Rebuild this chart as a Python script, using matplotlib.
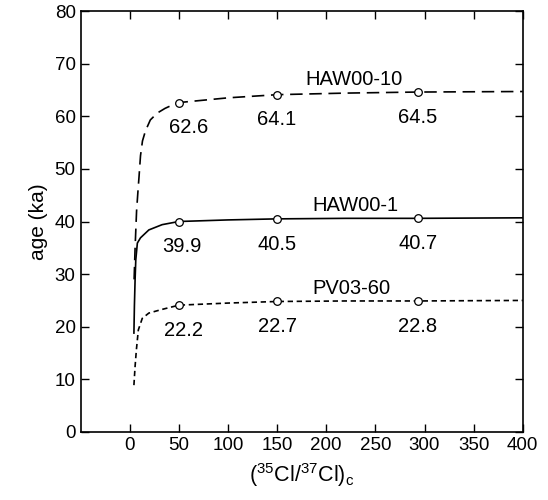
import matplotlib
matplotlib.use('Agg')
import matplotlib.pyplot as plt

plt.rcParams['font.family'] = ['Liberation Sans', 'DejaVu Sans']
plt.rcParams['mathtext.fontset'] = 'custom'
plt.rcParams['mathtext.rm'] = 'Liberation Sans'

# curves
haw10_x = [4.5, 5.5, 7, 8.5, 9.5, 11, 13, 16, 21, 28, 36, 43, 50, 100, 150, 220, 293, 400]
haw10_y = [29, 35, 42, 46, 48.5, 52.5, 55.3, 57.2, 59.3, 60.6, 61.5, 62.1, 62.6, 63.5, 64.1, 64.4, 64.6, 64.7]

haw1_x = [4.3, 4.8, 5.5, 6.2, 7.8, 11, 19.5, 33, 50, 100, 150, 220, 293, 400]
haw1_y = [18.8, 24, 29, 32.7, 35.9, 36.9, 38.4, 39.4, 40.0, 40.3, 40.5, 40.6, 40.6, 40.7]

pv_x = [4.3, 5.5, 6.8, 8.8, 12.8, 19.5, 33, 50, 100, 150, 220, 293, 400]
pv_y = [8.9, 12.5, 15.6, 19.4, 21.6, 22.6, 23.3, 24.1, 24.5, 24.8, 24.9, 24.9, 25.0]

# sample points (open circles) and their age labels
pts_x = [50, 150, 293]
haw10_pts = [62.6, 64.1, 64.6]
haw1_pts = [40.0, 40.5, 40.6]
pv_pts = [24.1, 24.8, 24.9]
haw10_lab = ['62.6', '64.1', '64.5']
haw1_lab = ['39.9', '40.5', '40.7']
pv_lab = ['22.2', '22.7', '22.8']

fig = plt.figure(figsize=(5.48, 5.0), dpi=100)
ax = fig.add_axes([0.147, 0.136, 0.807, 0.842])

lw = 1.2
ax.plot(haw10_x, haw10_y, color='black', lw=lw, dashes=(7.5, 4))
ax.plot(haw1_x, haw1_y, color='black', lw=lw)
ax.plot(pv_x, pv_y, color='black', lw=lw, dashes=(3.2, 2.2))

for ys in (haw10_pts, haw1_pts, pv_pts):
    ax.plot(pts_x, ys, 'o', ms=5.5, mfc='white', mec='black', mew=0.9, zorder=3)

# value labels under the points
for ys, labs, dx0 in ((haw10_pts, haw10_lab, 10), (haw1_pts, haw1_lab, 3), (pv_pts, pv_lab, 5)):
    for i, (x, y, t) in enumerate(zip(pts_x, ys, labs)):
        dx = dx0 if i == 0 else 0
        ax.text(x + dx, y - 4.8, t, ha='center', va='center', fontsize=14.5)

ax.text(228, 65.2, 'HAW00-10', ha='center', va='bottom', fontsize=14.5)
ax.text(230, 41.2, 'HAW00-1', ha='center', va='bottom', fontsize=14.5)
ax.text(226, 25.4, 'PV03-60', ha='center', va='bottom', fontsize=14.5)

ax.set_xlim(-50, 400)
ax.set_ylim(0, 80)
ax.set_xticks(range(0, 401, 50))
ax.set_yticks(range(0, 81, 10))
ax.tick_params(direction='in', top=True, right=True, length=6, width=1, labelsize=13.5)
for s in ax.spines.values():
    s.set_linewidth(1.2)

ax.set_xlabel(r'($^{35}$Cl/$^{37}$Cl)$_{\rm c}$', fontsize=15.5, labelpad=5)
ax.set_ylabel('age (ka)', fontsize=15, labelpad=5)

fig.savefig('out.png', dpi=100)
